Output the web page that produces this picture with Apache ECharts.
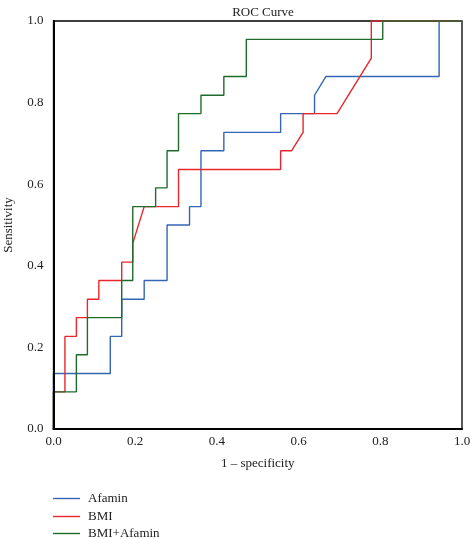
<!DOCTYPE html>
<html>
<head>
<meta charset="utf-8">
<script src="https://cdn.jsdelivr.net/npm/echarts@6/dist/echarts.min.js"></script>
<style>html,body{margin:0;padding:0;background:#fff}#c{width:472px;height:539px}</style>
</head>
<body>
<div id="c"></div>
<script>
var seriesNames = ['Afamin', 'BMI', 'BMI+Afamin'];
var seriesColors = ['#3466b4', '#e8262b', '#1f6b2c'];
var tickLabels = ['0.0', '0.2', '0.4', '0.6', '0.8', '1.0'];

var afaminX = [0, 0, 0.139, 0.139, 0.167, 0.167, 0.222, 0.222, 0.278, 0.278, 0.333, 0.333, 0.361, 0.361, 0.417, 0.417, 0.556, 0.556, 0.639, 0.639, 0.667, 0.944, 0.944, 1];
var afaminY = [0, 0.136, 0.136, 0.227, 0.227, 0.318, 0.318, 0.364, 0.364, 0.5, 0.5, 0.545, 0.545, 0.682, 0.682, 0.727, 0.727, 0.773, 0.773, 0.818, 0.864, 0.864, 1, 1];

var bmiX = [0, 0, 0.028, 0.028, 0.056, 0.056, 0.083, 0.083, 0.111, 0.111, 0.167, 0.167, 0.194, 0.194, 0.222, 0.306, 0.306, 0.556, 0.556, 0.583, 0.611, 0.611, 0.694, 0.778, 0.778, 1];
var bmiY = [0, 0.091, 0.091, 0.227, 0.227, 0.273, 0.273, 0.318, 0.318, 0.364, 0.364, 0.409, 0.409, 0.455, 0.545, 0.545, 0.636, 0.636, 0.682, 0.682, 0.727, 0.773, 0.773, 0.909, 1, 1];

var comboX = [0, 0, 0.056, 0.056, 0.083, 0.083, 0.167, 0.167, 0.194, 0.194, 0.25, 0.25, 0.278, 0.278, 0.306, 0.306, 0.361, 0.361, 0.417, 0.417, 0.472, 0.472, 0.806, 0.806, 1];
var comboY = [0, 0.091, 0.091, 0.182, 0.182, 0.273, 0.273, 0.364, 0.364, 0.545, 0.545, 0.591, 0.591, 0.682, 0.682, 0.773, 0.773, 0.818, 0.818, 0.864, 0.864, 0.955, 0.955, 1, 1];

function pairs(xs, ys) { return xs.map(function (x, i) { return [x, ys[i]]; }); }
var allX = [afaminX, bmiX, comboX];
var allY = [afaminY, bmiY, comboY];

var font = 'Liberation Serif';
var legendTops = [492, 510, 527];
var chart = echarts.init(document.getElementById('c'), null, {renderer: 'canvas'});
chart.setOption({
  animation: false,
  backgroundColor: '#fff',
  title: {
    text: 'ROC Curve', left: 258, top: 1, textAlign: 'center',
    textStyle: {fontFamily: font, fontSize: 13, fontWeight: 'normal', color: '#222'}
  },
  legend: seriesNames.map(function (n, i) {
    return {
      orient: 'horizontal', left: 53, top: legendTops[i], padding: 0,
      itemWidth: 27, itemHeight: 1.4, icon: 'rect',
      data: [n],
      textStyle: {fontFamily: font, fontSize: 13, lineHeight: 12, color: '#222', padding: [0, 0, 0, 3]}
    };
  }),
  grid: {left: 53.5, right: 10, top: 21, bottom: 110, outerBoundsMode: 'none', containLabel: false,
    show: true, borderColor: '#000', borderWidth: 1.3, backgroundColor: 'transparent'},
  xAxis: {
    type: 'value', min: 0, max: 1, interval: 0.2, z: 10,
    name: '1 – specificity', nameLocation: 'middle', nameGap: 28,
    nameTextStyle: {fontFamily: font, fontSize: 13, color: '#222'},
    axisLine: {lineStyle: {color: '#000', width: 2}},
    axisTick: {show: false},
    splitLine: {show: false},
    axisLabel: {fontFamily: font, fontSize: 13, color: '#222', margin: 6,
      formatter: function (v) { return tickLabels[Math.round(v * 5)]; }}
  },
  yAxis: {
    type: 'value', min: 0, max: 1, interval: 0.2, z: 10,
    name: 'Sensitivity', nameLocation: 'middle', nameGap: 38,
    nameTextStyle: {fontFamily: font, fontSize: 13, color: '#222'},
    axisLine: {show: true, lineStyle: {color: '#000', width: 2}},
    axisTick: {show: false},
    splitLine: {show: false},
    axisLabel: {fontFamily: font, fontSize: 13, color: '#222', margin: 10,
      formatter: function (v) { return tickLabels[Math.round(v * 5)]; }}
  },
  series: seriesNames.map(function (n, i) {
    return {
      name: n, type: 'line', symbol: 'none', showSymbol: false,
      data: pairs(allX[i], allY[i]),
      lineStyle: {color: seriesColors[i], width: 1.4},
      itemStyle: {color: seriesColors[i]},
      z: 2 + i
    };
  })
});
</script>
</body>
</html>
